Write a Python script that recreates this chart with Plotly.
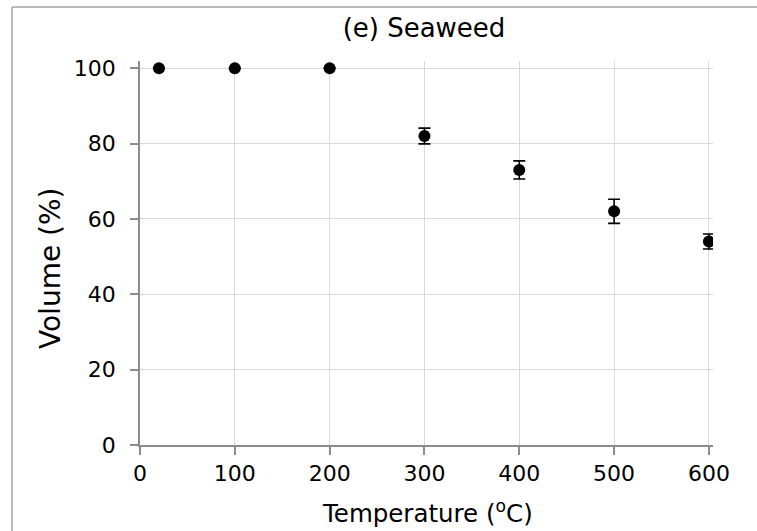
import plotly.graph_objects as go

temperature = [20, 100, 200, 300, 400, 500, 600]
volume = [100, 100, 100, 82, 73, 62, 54]
volume_err = [0, 0, 0, 2.1, 2.4, 3.2, 2.0]
x_ticks = [0, 100, 200, 300, 400, 500, 600]
y_ticks = [0, 20, 40, 60, 80, 100]

W, H = 757, 531
L, R, T, B = 140, 44, 61, 86
pw, ph = W - L - R, H - T - B

def px(x):
    return (x - L) / pw

def py(y):
    return (H - B - y) / ph

FONT = "DejaVu Sans"

fig = go.Figure()
fig.add_trace(go.Scatter(
    x=temperature, y=volume, mode="markers",
    marker=dict(color="black", size=12),
    error_y=dict(type="data", array=volume_err, visible=True,
                 color="black", thickness=1.6, width=6),
    showlegend=False,
))

fig.update_layout(
    width=W, height=H,
    margin=dict(l=L, r=R, t=T, b=B, pad=0),
    paper_bgcolor="white", plot_bgcolor="white",
    font=dict(family=FONT, color="black", size=22),
    title=dict(text="(e) Seaweed", x=px(424), xref="paper", xanchor="center",
               y=1 - 28 / H, yref="container", yanchor="middle",
               font=dict(family=FONT, size=26, color="black")),
    xaxis=dict(range=[0, 604.3], tickvals=x_ticks, showgrid=True,
               gridcolor="#d9d9d9", gridwidth=1, zeroline=False,
               showline=True, linecolor="#8c8c8c", linewidth=1.5,
               ticks="outside", ticklen=8, tickcolor="#8c8c8c", tickwidth=1.5,
               tickfont=dict(family=FONT, size=22, color="black")),
    yaxis=dict(range=[0, 101.9], tickvals=y_ticks, showgrid=True,
               gridcolor="#d9d9d9", gridwidth=1, zeroline=False,
               showline=True, linecolor="#8c8c8c", linewidth=1.5,
               ticks="outside", ticklen=8, tickcolor="#8c8c8c", tickwidth=1.5,
               ticklabelstandoff=10,
               tickfont=dict(family=FONT, size=22, color="black")),
    annotations=[
        dict(text="Temperature (<sup>o</sup>C)", x=px(427), y=py(512),
             xref="paper", yref="paper", xanchor="center", yanchor="middle",
             showarrow=False, font=dict(family=FONT, size=24.5, color="black")),
        dict(text="Volume (%)", x=px(50), y=py(268), textangle=-90,
             xref="paper", yref="paper", xanchor="center", yanchor="middle",
             showarrow=False, font=dict(family=FONT, size=28, color="black")),
    ],
    shapes=[
        dict(type="line", xref="paper", yref="paper",
             x0=px(12), y0=py(H + 2), x1=px(12), y1=py(7),
             line=dict(color="#a0a0a0", width=1.5)),
        dict(type="line", xref="paper", yref="paper",
             x0=px(12), y0=py(7), x1=px(W + 2), y1=py(7),
             line=dict(color="#a0a0a0", width=1.5)),
    ],
)

fig.write_html("out.html")
